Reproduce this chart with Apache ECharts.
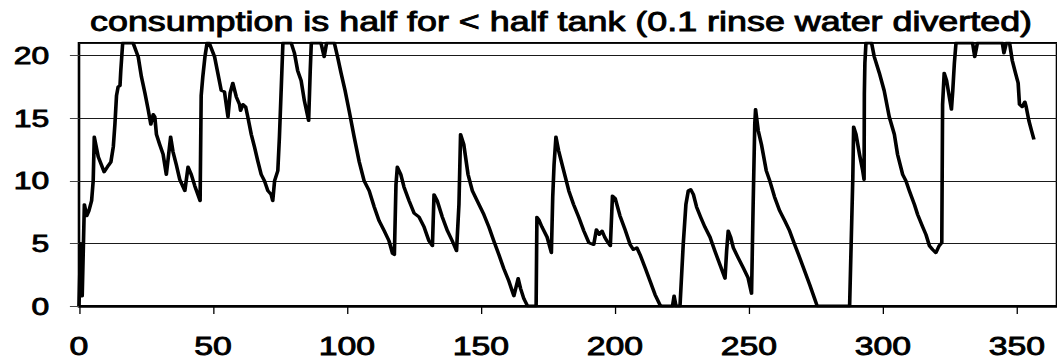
<!DOCTYPE html>
<html>
<head>
<meta charset="utf-8">
<title>Tank level</title>
<script src="https://cdn.jsdelivr.net/npm/echarts@6/dist/echarts.min.js"></script>
<style>
  html, body { margin: 0; padding: 0; background: #fff; overflow: hidden; }
  #wrap { width: 1057px; height: 361px; overflow: hidden; }
  #chart { height: 361px; transform-origin: 0 0; }
</style>
</head>
<body>
<div id="wrap"><div id="chart"></div></div>
<script>
// Day of year and water level in the tank (tank capacity 21)
const days = [
  0, 0.6, 1.2, 2.0, 2.9, 3.7, 4.7, 5.3, 5.7, 7.2, 9.4, 10.9, 11.9, 12.8, 13.4, 14.0, 14.6, 15.3, 15.6, 16.3,
  20.2, 22.1, 23.3, 24.6, 25.8, 26.8, 27.7, 28.3, 28.9, 30.1, 31.4, 32.6, 34.2, 35.1, 36.3, 37.6, 39.5, 40.7,
  41.9, 43.2, 45.2, 45.6, 46.2, 47.0, 47.8, 48.6, 50.6, 51.8, 53.1, 54.3, 55.6, 56.4, 57.4, 58.7, 59.9, 60.3,
  61.2, 62.2, 63.0, 64.3, 65.5, 66.7, 68.0, 69.2, 70.5, 71.7, 72.3, 73.0, 74.2, 74.8, 75.5, 76.1, 79.2, 80.4,
  81.6, 82.9, 84.1, 85.7, 86.3, 86.7, 90.3, 91.5, 92.4, 95.3, 96.5, 97.8, 99.3, 100.9, 102.7, 104.6, 106.4,
  108.3, 110.2, 112.0, 113.9, 115.7, 117.0, 117.7, 118.3, 118.8, 120.1, 121.3, 123.2, 125.1, 126.9, 128.8,
  130.6, 131.9, 132.5, 133.7, 135.6, 137.5, 139.3, 140.9, 141.8, 142.4, 143.6, 145.2, 146.8, 148.6, 151.1,
  153.0, 154.8, 156.7, 158.5, 160.4, 162.3, 163.9, 164.8, 166.0, 167.4, 170.6, 170.9, 171.6, 172.8, 174.7,
  176.3, 176.8, 177.3, 178.0, 179.0, 180.3, 181.5, 182.8, 184.6, 186.5, 188.4, 190.3, 192.1, 193.1, 194.2,
  195.2, 196.2, 197.0, 198.3, 199.1, 200.1, 201.9, 203.8, 205.7, 206.9, 208.2, 209.4, 211.3, 213.1, 215.0,
  216.8, 217.6, 221.5, 222.1, 222.8, 224.3, 225.5, 226.5, 227.4, 228.3, 229.3, 230.5, 232.0, 233.6, 235.5,
  237.3, 239.2, 241.1, 241.7, 242.3, 243.2, 244.2, 246.0, 247.9, 249.7, 251.0, 251.6, 252.2, 252.5, 253.5,
  254.7, 256.5, 257.8, 259.6, 261.5, 263.4, 265.2, 267.1, 269.0, 270.8, 272.7, 274.5, 275.5, 287.6, 288.8,
  289.1, 290.0, 291.3, 292.5, 293.0, 293.1, 293.3, 293.7, 295.8, 296.8, 298.7, 300.5, 302.4, 304.3, 305.5,
  307.4, 308.6, 309.9, 311.8, 313.0, 314.9, 316.1, 317.4, 318.6, 319.8, 321.0, 322.0, 322.3, 322.9, 323.8,
  324.8, 325.6, 326.1, 326.7, 327.3, 333.5, 334.3, 335.3, 344.6, 345.2, 346.1, 347.3, 348.3, 349.5, 350.5,
  351.0, 352.0, 353.0, 353.5, 354.5, 355.5, 356.4
];
const level = [
  0, 5.0, 0.8, 8.1, 7.2, 7.6, 8.4, 10.0, 13.5, 11.9, 10.7, 11.2, 11.5, 12.7, 14.5, 16.8, 17.5, 17.6, 18.8, 21,
  21, 19.9, 18.3, 17.0, 15.7, 14.5, 15.3, 15.1, 13.7, 12.9, 12.1, 10.5, 13.5, 12.3, 11.3, 10.1, 9.2, 11.1,
  10.5, 9.6, 8.4, 16.8, 18.3, 19.9, 21, 21, 19.9, 18.6, 17.2, 17.1, 15.1, 17.0, 17.8, 16.7, 16.1, 15.6,
  16.1, 15.9, 15.1, 13.7, 12.7, 11.6, 10.5, 10.0, 9.2, 8.9, 8.4, 10.0, 10.8, 13.5, 17.5, 21, 21, 20.2,
  18.8, 18.0, 16.4, 14.8, 18.8, 21, 21, 19.9, 21, 21, 19.9, 18.6, 17.2, 15.5, 13.5, 11.5, 10.0,
  9.2, 7.9, 6.8, 6.0, 5.2, 4.2, 4.1, 9.7, 11.1, 10.5, 9.5, 8.4, 7.4, 7.1, 6.3,
  5.2, 4.8, 8.9, 8.4, 7.1, 6.0, 5.2, 4.4, 8.1, 13.7, 12.9, 10.5, 9.2, 8.4, 7.3,
  6.3, 5.2, 4.1, 3.0, 2.0, 0.8, 2.2, 1.4, 0.6, 0, 0, 7.1, 6.9, 6.3, 5.5,
  4.25, 8.7, 11.3, 13.5, 12.4, 11.3, 10.3, 9.2, 8.1, 7.1, 6.0, 5.05, 4.9, 6.1, 5.7,
  6.0, 5.5, 5.2, 4.8, 8.8, 8.6, 7.2, 6.1, 4.9, 4.5, 4.65, 4.1, 3.05, 2.0, 0.9,
  0.1, 0, 0, 0.8, 0, 0, 4.9, 8.1, 9.2, 9.3, 8.9, 7.9, 7.1, 6.3, 5.5,
  4.4, 3.3, 2.2, 4.4, 6.0, 5.5, 4.65, 3.85, 3.05, 2.25, 1.0, 8.1, 14.5, 15.7, 14.0,
  12.9, 10.8, 10.0, 8.7, 7.6, 6.8, 6.0, 4.9, 3.85, 2.8, 1.7, 0.6, 0, 0, 10.3,
  14.3, 13.7, 12.1, 10.8, 10.1, 16.9, 19.4, 21, 21, 19.9, 18.6, 17.2, 15.1, 13.7, 12.1,
  10.5, 10.0, 9.2, 8.1, 7.3, 6.3, 5.7, 4.8, 4.5, 4.25, 4.8, 5.05, 16.1, 18.6, 18.0,
  16.7, 15.7, 17.2, 19.4, 21, 21, 19.9, 21, 21, 20.2, 21, 21, 19.6, 18.6, 17.8,
  16.1, 15.9, 16.3, 15.9, 14.8, 14.0, 13.3
];
const chartTitle = 'consumption is half for < half tank (0.1 rinse water diverted)';

// The whole drawing is laid out narrow and then widened horizontally.
const STRETCH = 1.3;
const W = 1057 / STRETCH;
const el = document.getElementById('chart');
el.style.width = W + 'px';
el.style.transform = 'scaleX(' + STRETCH + ')';

const FONT = '"Liberation Sans", Arial, Helvetica, sans-serif';
const chart = echarts.init(el, null, { renderer: 'svg', width: W, height: 361 });

// Regular face with a thin outline of the same colour for a slightly heavy print look
const heavyText = (size) => ({
  fontFamily: FONT, fontSize: size, fontWeight: 'normal', color: '#000',
  textBorderColor: '#000', textBorderWidth: 0.9
});

chart.setOption({
  animation: false,
  backgroundColor: '#fff',
  title: {
    text: chartTitle,
    left: 90 / STRETCH,
    top: 8,
    padding: 0,
    textStyle: Object.assign(heavyText(27.6), { lineHeight: 27 })
  },
  grid: {
    left: 79 / STRETCH,
    top: 43,
    width: 981 / STRETCH,
    height: 263,
    show: true,
    borderColor: '#000',
    borderWidth: 2,
    backgroundColor: 'transparent'
  },
  xAxis: {
    type: 'value',
    min: 0,
    max: 365,
    interval: 50,
    axisLine: { show: true, onZero: false, lineStyle: { color: '#000', width: 2.5 } },
    axisTick: { show: true, inside: false, length: 8, lineStyle: { color: '#000', width: 1 } },
    axisLabel: Object.assign(heavyText(26), { margin: 27, showMaxLabel: false }),
    splitLine: { show: false }
  },
  yAxis: {
    type: 'value',
    min: 0,
    max: 21,
    interval: 5,
    axisLine: { show: false },
    axisTick: { show: true, inside: false, length: 7, lineStyle: { color: '#444', width: 1 } },
    axisLabel: Object.assign(heavyText(24.5), { margin: 23, showMaxLabel: false }),
    splitLine: { show: true, lineStyle: { color: '#1a1a1a', width: 1 } }
  },
  series: [{
    type: 'line',
    data: days.map((d, i) => [d, level[i]]),
    showSymbol: false,
    symbol: 'none',
    lineStyle: { color: '#000', width: 2.8, join: 'round' },
    z: 3
  }]
});
</script>
</body>
</html>
